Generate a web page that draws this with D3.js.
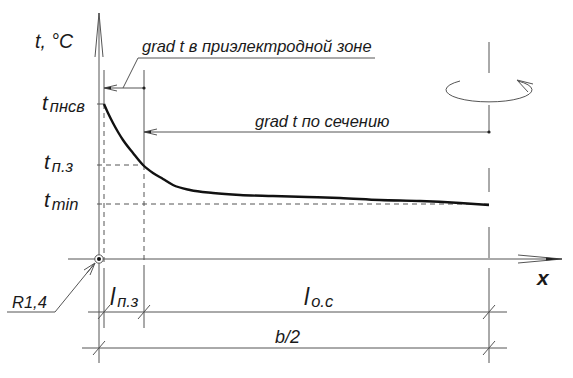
<!DOCTYPE html>
<html>
<head>
<meta charset="utf-8">
<script src="https://cdn.jsdelivr.net/npm/d3@7"></script>
<style>
  body { margin: 0; background: #fff; }
  text { font-family: "Liberation Sans", Arial, sans-serif; font-style: italic; fill: #1a1a1a; }
</style>
</head>
<body>
<script>
// temperature profile across the half-section (distance from electrode axis, temperature units)
const curveX = [5, 9, 14, 19, 24, 34, 44, 54, 64, 74, 91, 114, 141, 174, 208, 241, 281, 321, 361, 390];
const curveT = [155, 146, 136, 127, 119, 106, 94, 86, 80, 74, 69, 66, 64, 63, 62, 61, 59, 58, 56, 54];

// characteristic temperature levels
const levelNames = ["пнсв", "п.з", "min"];
const levelValues = [155, 94, 55];

// zone boundaries: axis, electrode edge, near-electrode zone end, half width
const zoneBounds = [0, 5, 45, 390];

// texts
const gradZoneText = "grad t в приэлектродной зоне";
const gradSectionText = "grad t по сечению";

const W = 573, H = 378;
const gray = "#555";

const svg = d3.select("body").append("svg")
  .attr("width", W)
  .attr("height", H);

// scales
const x = d3.scaleLinear().domain([0, 390]).range([99, 489]);
const y = d3.scaleLinear().domain([0, 155]).range([259, 104]);

const x0 = x(zoneBounds[0]), xe = x(zoneBounds[1]), xz = x(zoneBounds[2]), xb = x(zoneBounds[3]);
const y0 = y(0);

function line(x1, y1, x2, y2, dash, color, w) {
  return svg.append("line")
    .attr("x1", x1).attr("y1", y1).attr("x2", x2).attr("y2", y2)
    .attr("stroke", color || gray)
    .attr("stroke-width", w || 1)
    .attr("stroke-dasharray", dash || null);
}

// little left pointing arrow
function arrowLeft(tx, ty) {
  svg.append("path")
    .attr("d", `M${tx},${ty} L${tx + 13},${ty - 3} M${tx},${ty} L${tx + 13},${ty + 3}`)
    .attr("stroke", gray).attr("fill", "none");
  svg.append("path")
    .attr("d", `M${tx},${ty} L${tx + 7},${ty - 1.3} L${tx + 7},${ty + 1.3} Z`)
    .attr("fill", "#222");
}

function dot(cx, cy) {
  svg.append("circle").attr("cx", cx).attr("cy", cy).attr("r", 1.6).attr("fill", "#222");
}

// ---- axes ----
line(x0, 13, x0, 363);                 // t axis
line(68, y0, 562, y0);                 // x axis
// t axis arrow
svg.append("path")
  .attr("d", `M${x0},13 L${x0 - 4},57 M${x0},13 L${x0 + 4},57`)
  .attr("stroke", gray).attr("fill", "none");
// x axis arrow
svg.append("path")
  .attr("d", `M562,${y0} L518,${y0 - 4} M562,${y0} L518,${y0 + 4}`)
  .attr("stroke", gray).attr("fill", "none");
svg.append("path")
  .attr("d", `M562,${y0} L546,${y0 - 1.5} L546,${y0 + 1.5} Z`)
  .attr("fill", "#222");

// ---- extension lines ----
const yP = y(levelValues[0]), yZ = y(levelValues[1]), yMin = y(levelValues[2]);
line(xe, 70, xe, yP);
line(xe, yP, xe, 262, "5,4");
line(xe, 268, xe, 328);
line(xz, 70, xz, yZ);
line(xz, yZ, xz, 262, "5,4");
line(xz, 265, xz, 328);
// right centre line (rotation axis)
line(xb, 42, xb, 363, "31,32,27,36,24,35,31,10,95");

// level lines
line(97, yP, xe, yP);
line(97, yZ, xz, yZ, "5,4");
line(97, yMin, xb, yMin, "5,4");

// ---- gradient annotations ----
const yG1 = 88, yG2 = 132;
line(xe, yG1, xz, yG1);
arrowLeft(xe, yG1);
dot(xz, yG1);
line(123, yG1, 138, 58);
line(138, 58, 375, 58);
svg.append("text").attr("x", 142).attr("y", 52).attr("font-size", 16.5).text(gradZoneText);

line(xz, yG2, xb, yG2);
arrowLeft(xz, yG2);
dot(xb, yG2);
svg.append("text").attr("x", 255).attr("y", 127).attr("font-size", 16.5).text(gradSectionText);

// ---- curve ----
const pts = curveX.map((d, i) => [x(d), y(curveT[i])]);
svg.append("path")
  .attr("d", d3.line().curve(d3.curveMonotoneX)(pts))
  .attr("fill", "none")
  .attr("stroke", "#111")
  .attr("stroke-width", 2.4);

// ---- labels ----
function subLabel(px, py, main, sub, size, subSize, dy) {
  const t = svg.append("text").attr("x", px).attr("y", py).attr("font-size", size);
  t.append("tspan").text(main);
  t.append("tspan").attr("font-size", subSize).attr("dx", 2).attr("dy", dy).text(sub);
}
svg.append("text").attr("x", 35).attr("y", 48).attr("font-size", 19.5).text("t, °C");
subLabel(42, 110, "t", levelNames[0], 21, 16.5, 2);
subLabel(44, 169, "t", levelNames[1], 21, 16.5, 3);
subLabel(44, 207, "t", levelNames[2], 21, 16.5, 3);

// ---- electrode point and R1,4 leader ----
svg.append("circle").attr("cx", x0).attr("cy", y0).attr("r", 4.2)
  .attr("fill", "#fff").attr("stroke", gray);
svg.append("circle").attr("cx", x0).attr("cy", y0).attr("r", 2).attr("fill", "#111");
line(7, 312, 55, 312);
line(55, 312, 95, 263);
svg.append("path")
  .attr("d", "M95,263 L84,270 M95,263 L90,275 M95,263 L87,273")
  .attr("stroke", gray).attr("fill", "none");
svg.append("text").attr("x", 12).attr("y", 308).attr("font-size", 16.5).text("R1,4");

// ---- dimension lines ----
const yD1 = 312, yD2 = 348;
line(88, yD1, 507, yD1);
line(82, yD2, 507, yD2);
function tick(cx, cy) { line(cx - 6, cy + 7, cx + 6, cy - 7); }
[xe, xz, xb].forEach(d => tick(d, yD1));
[x0, xb].forEach(d => tick(d, yD2));

subLabel(110, 305, "l", "п.з", 23, 16.5, 2);
subLabel(304, 305, "l", "о.с", 23, 16.5, 2);
svg.append("text").attr("x", 275).attr("y", 343).attr("font-size", 18).text("b/2");
svg.append("text").attr("x", 537).attr("y", 285).attr("font-size", 21).attr("font-weight", "bold").text("x");

// ---- rotation symbol ----
svg.append("path")
  .attr("d", "M460,81 A43 12 0 1 0 518,81")
  .attr("fill", "none").attr("stroke", gray);
svg.append("path")
  .attr("d", "M517,80 L533,84 M517,80 L528,92")
  .attr("fill", "none").attr("stroke", gray);
</script>
</body>
</html>
